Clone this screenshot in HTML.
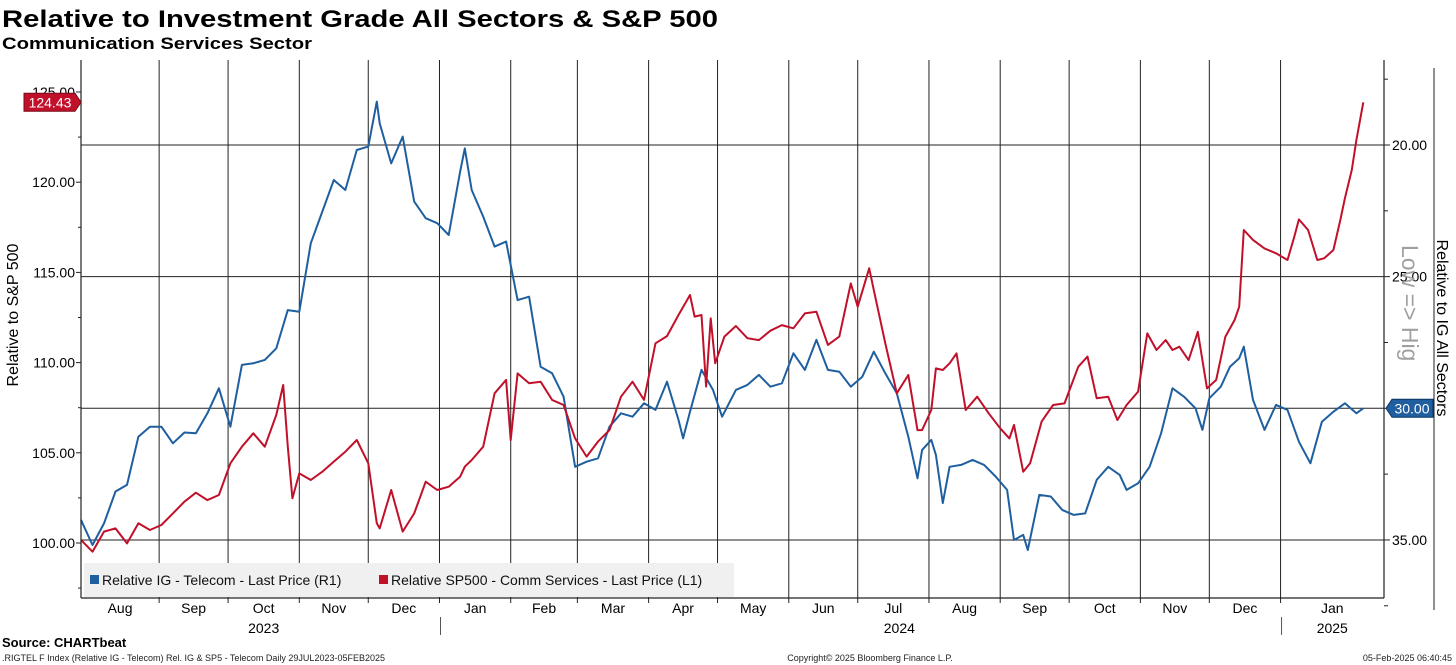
<!DOCTYPE html>
<html><head><meta charset="utf-8">
<style>
html,body{margin:0;padding:0;background:#fff;}
svg{display:block;font-family:"Liberation Sans",sans-serif;}
</style></head>
<body>
<svg id="chart" width="1456" height="665" viewBox="0 0 1456 665" xmlns="http://www.w3.org/2000/svg">
<text x="2" y="27" font-size="24" font-weight="bold" textLength="716" lengthAdjust="spacingAndGlyphs">Relative to Investment Grade All Sectors &amp; S&amp;P 500</text>
<text x="2" y="49" font-size="17" font-weight="bold" textLength="310" lengthAdjust="spacingAndGlyphs">Communication Services Sector</text>
<g id="grid"></g>
<g id="series"></g>
<g id="axes"></g>
<g>
<rect x="84" y="563" width="650" height="34" fill="#f0f0f0"/>
<rect x="90" y="575" width="9" height="9" fill="#1f5fa0"/>
<text x="102" y="585" font-size="14" fill="#111">Relative IG - Telecom - Last Price (R1)</text>
<rect x="379" y="575" width="9" height="9" fill="#c0102a"/>
<text x="391" y="585" font-size="14" fill="#111">Relative SP500 - Comm Services - Last Price (L1)</text>
</g>
<text transform="translate(18,315) rotate(-90)" text-anchor="middle" font-size="16">Relative to S&amp;P 500</text>
<text transform="translate(1437,328) rotate(90)" text-anchor="middle" font-size="16">Relative to IG All Sectors</text>
<text transform="translate(1402,245) rotate(90)" font-size="23" fill="#a0a0a0">Low =&gt; Hig</text>
<line x1="1434" y1="68" x2="1434" y2="610" stroke="#222" stroke-width="1"/>
<g id="tags"></g>
<text x="2" y="647" font-size="13" font-weight="bold">Source: CHARTbeat</text>
<text x="2" y="661" font-size="9" fill="#222">.RIGTEL F Index (Relative IG - Telecom) Rel. IG &amp; SP5 - Telecom  Daily 29JUL2023-05FEB2025</text>
<text x="870" y="661" font-size="9" text-anchor="middle" fill="#222">Copyright© 2025 Bloomberg Finance L.P.</text>
<text x="1452" y="661" font-size="9" text-anchor="end" fill="#222">05-Feb-2025 06:40:45</text>
</svg>
<script>
// days since 2023-07-29
const blueDays=[0,5,10,15,20,25,30,35,40,45,50,55,60,65,70,75,80,85,90,95,100,105,110,115,120,125,128.7,130,135,140,145,150,155,160,165,167,170,175,180,185,190,195,200,205,210,215,220,225,230,235,240,245,250,255,260,262,265,270,275,279,285,290,295,300,305,310,315,320,325,330,335,340,345,350,355,360,364,366,370,372,375,378,383,388,393,398,403,406,410,412,417,422,427,432,437,442,447,452,455,460,465,470,475,480,485,488,491,496,500,504,506,510,515,520,525,530,535,540,545,550,555,558];
const blueVals=[34.24,35.19,34.37,33.16,32.91,31.08,30.70,30.70,31.33,30.92,30.95,30.19,29.24,30.70,28.35,28.29,28.16,27.72,26.27,26.33,23.73,22.53,21.33,21.71,20.19,20.06,18.35,19.18,20.70,19.68,22.15,22.78,22.97,23.42,21.0,20.13,21.71,22.72,23.86,23.67,25.89,25.76,28.42,28.67,29.56,32.22,32.03,31.90,30.70,30.19,30.32,29.81,30.06,28.99,30.44,31.14,30.13,28.54,29.30,30.32,29.30,29.11,28.73,29.18,29.05,27.91,28.54,27.40,28.54,28.61,29.18,28.80,27.85,28.67,29.43,31.08,32.66,31.58,31.20,31.77,33.6,32.22,32.15,31.96,32.15,32.59,33.10,35.00,34.81,35.38,33.29,33.35,33.86,34.05,33.99,32.72,32.22,32.53,33.10,32.85,32.22,30.95,29.24,29.56,30.00,30.82,29.62,29.18,28.42,28.10,27.66,29.68,30.82,29.87,30.06,31.27,32.09,30.51,30.13,29.81,30.19,30.00];
const redDays=[0,5,10,15,20,25,30,35,40,45,50,55,60,65,70,75,80,85,88,90,92,95,100,105,110,115,120,125,128.7,130,135,140,145,150,155,160,165,167,170,175,180,185,187,190,195,200,205,210,215,220,225,230,235,240,245,250,255,260,265,267,270,272,274,276,280,285,290,295,300,305,310,315,320,325,330,335,338,343,345,350,355,360,364,366,370,372,375,378,381,385,390,395,400,404,406,410,413,418,423,428,431,434,438,442,447,451,455,460,464,468,472,475,478,482,486,490,494,498,502,504,506,510,515,520,525,528,530,534,538,541,545,548,550,553,555,558];
const redVals=[100.17,99.52,100.63,100.81,99.98,101.09,100.72,101.00,101.64,102.29,102.79,102.38,102.66,104.42,105.34,106.08,105.34,107.10,108.76,105.34,102.48,103.86,103.49,103.95,104.51,105.06,105.71,104.42,101.09,100.81,102.94,100.63,101.64,103.40,102.94,103.12,103.68,104.23,104.60,105.34,108.30,109.04,105.71,109.4,108.85,108.94,107.93,107.65,105.80,104.79,105.62,106.26,108.11,108.94,107.93,111.07,111.47,112.64,113.75,112.55,112.64,108.67,112.45,109.96,111.44,112.03,111.35,111.25,111.77,112.08,111.90,112.73,112.82,110.98,111.44,114.39,113.10,115.23,114.02,111.07,108.30,109.31,106.26,106.26,107.37,109.68,109.59,109.96,110.51,107.37,108.11,107.19,106.36,105.80,106.54,103.95,104.42,106.73,107.65,107.74,108.76,109.77,110.33,108.02,108.11,106.82,107.65,108.39,111.62,110.70,111.25,110.70,110.88,110.14,111.71,108.57,109.04,111.44,112.36,113.10,117.35,116.80,116.33,116.06,115.69,116.98,117.94,117.35,115.69,115.78,116.24,117.90,119.11,120.68,122.34,124.43];
const leftTicks=[100,105,110,115,120,125];
const rightTicks=[20,25,30,35];
const monthLabels=['Aug','Sep','Oct','Nov','Dec','Jan','Feb','Mar','Apr','May','Jun','Jul','Aug','Sep','Oct','Nov','Dec','Jan'];
const yearLabels=['2023','2024','2025'];

const NS='http://www.w3.org/2000/svg';
const X0=81,X1=1384,Y0=60,Y1=598;
const base=Date.UTC(2023,6,29);
function xDay(d){return X0+d*2.298;}
function yL(v){return 543-(v-100)*18.04;}
function yR(v){return 145+(v-20)*26.33;}
function mk(parent,tag,attrs){const e=document.createElementNS(NS,tag);for(const k in attrs)e.setAttribute(k,attrs[k]);parent.appendChild(e);return e;}
const grid=document.getElementById('grid'),axes=document.getElementById('axes'),ser=document.getElementById('series'),tags=document.getElementById('tags');

// month boundaries
const bounds=[0];
for(let i=0;i<17;i++){const dt=Date.UTC(2023,8+i,1);bounds.push((dt-base)/86400000);}
bounds.push((X1-X0)/2.298);
for(let i=1;i<bounds.length-1;i++){
  const l=mk(grid,'line',{x1:xDay(bounds[i]),y1:Y0,x2:xDay(bounds[i]),y2:Y1,stroke:'#222','stroke-width':1});
  
  
  const t=mk(axes,'line',{x1:xDay(bounds[i]),y1:Y1,x2:xDay(bounds[i]),y2:Y1+5,stroke:'#222'});
  
  
}
monthLabels.forEach((m,i)=>{
  const cx=(xDay(bounds[i])+xDay(bounds[i+1]))/2;
  const t=mk(axes,'text',{x:cx,y:613,'font-size':14,'text-anchor':'middle'});t.textContent=m;
  
  
});
const yearPos=[(xDay(bounds[2])+xDay(bounds[3]))/2,(xDay(bounds[11])+xDay(bounds[12]))/2+6,(xDay(bounds[17])+xDay(bounds[18]))/2];
yearLabels.forEach((y,i)=>{
  const t=mk(axes,'text',{x:yearPos[i],y:633,'font-size':14,'text-anchor':'middle'});t.textContent=y;
  
  
});
[5,17].forEach(i=>{
  const l=mk(axes,'line',{x1:xDay(bounds[i])+1,y1:617,x2:xDay(bounds[i])+1,y2:635,stroke:'#555'});
  
  
});
// horizontal gridlines (right axis)
rightTicks.forEach(v=>{
  const l=mk(grid,'line',{x1:X0,y1:yR(v),x2:X1,y2:yR(v),stroke:'#222','stroke-width':1});
  
  
  const t=mk(axes,'line',{x1:X1,y1:yR(v),x2:X1+6,y2:yR(v),stroke:'#222'});
  
  
  const m=mk(axes,'line',{x1:X1,y1:yR(v+2.5),x2:X1+4,y2:yR(v+2.5),stroke:'#222'});
  
  
  const tx=mk(axes,'text',{x:X1+8,y:yR(v)+5,'font-size':14});tx.textContent=v.toFixed(2);
  
  
});
{const m=mk(axes,'line',{x1:X1,y1:yR(17.5),x2:X1+4,y2:yR(17.5),stroke:'#222'});

}
leftTicks.forEach(v=>{
  const t=mk(axes,'line',{x1:X0-5,y1:yL(v),x2:X0,y2:yL(v),stroke:'#222'});
  
  
  if(v>100){const m=mk(axes,'line',{x1:X0-3,y1:yL(v-2.5),x2:X0,y2:yL(v-2.5),stroke:'#222'});
  
  }
  const tx=mk(axes,'text',{x:X0-6,y:yL(v)+5,'font-size':14,'text-anchor':'end'});tx.textContent=v.toFixed(2);
  
  
});
{const m=mk(axes,'line',{x1:X0-3,y1:yL(97.5),x2:X0,y2:yL(97.5),stroke:'#222'});

}
[[X0,Y0,X0,Y1,'left-axis-line'],[X1,Y0,X1,Y1,'right-axis-line'],[X0,Y1,X1,Y1,'x-axis-line']].forEach(a=>{
  const l=mk(axes,'line',{x1:a[0],y1:a[1],x2:a[2],y2:a[3],stroke:'#222','stroke-width':1.2});
  
  
});
// series
const bp=blueDays.map((d,i)=>xDay(d).toFixed(1)+','+yR(blueVals[i]).toFixed(1)).join(' ');
const bl=mk(ser,'polyline',{points:bp,fill:'none',stroke:'#1f5fa0','stroke-width':2,'stroke-linejoin':'round'});


const rp=redDays.map((d,i)=>xDay(d).toFixed(1)+','+yL(redVals[i]).toFixed(1)).join(' ');
const rl=mk(ser,'polyline',{points:rp,fill:'none',stroke:'#c0102a','stroke-width':2,'stroke-linejoin':'round'});


// tags
const lastR=redVals[redVals.length-1],ry=yL(lastR);
const rt=mk(tags,'polygon',{points:`24,${ry-9} 75,${ry-9} 81,${ry} 75,${ry+9} 24,${ry+9}`,fill:'#c0102a',stroke:'#7a0a18'});


const rtt=mk(tags,'text',{x:50,y:ry+5,'font-size':14,fill:'#fff','text-anchor':'middle'});rtt.textContent=lastR.toFixed(2);


const lastB=blueVals[blueVals.length-1],by=yR(lastB);
const btg=mk(tags,'polygon',{points:`1386,${by} 1392,${by-9} 1433,${by-9} 1433,${by+9} 1392,${by+9}`,fill:'#1f5fa0',stroke:'#0d3560'});


const btt=mk(tags,'text',{x:1412,y:by+5,'font-size':14,fill:'#fff','text-anchor':'middle'});btt.textContent=lastB.toFixed(2);


</script>
</body></html>
